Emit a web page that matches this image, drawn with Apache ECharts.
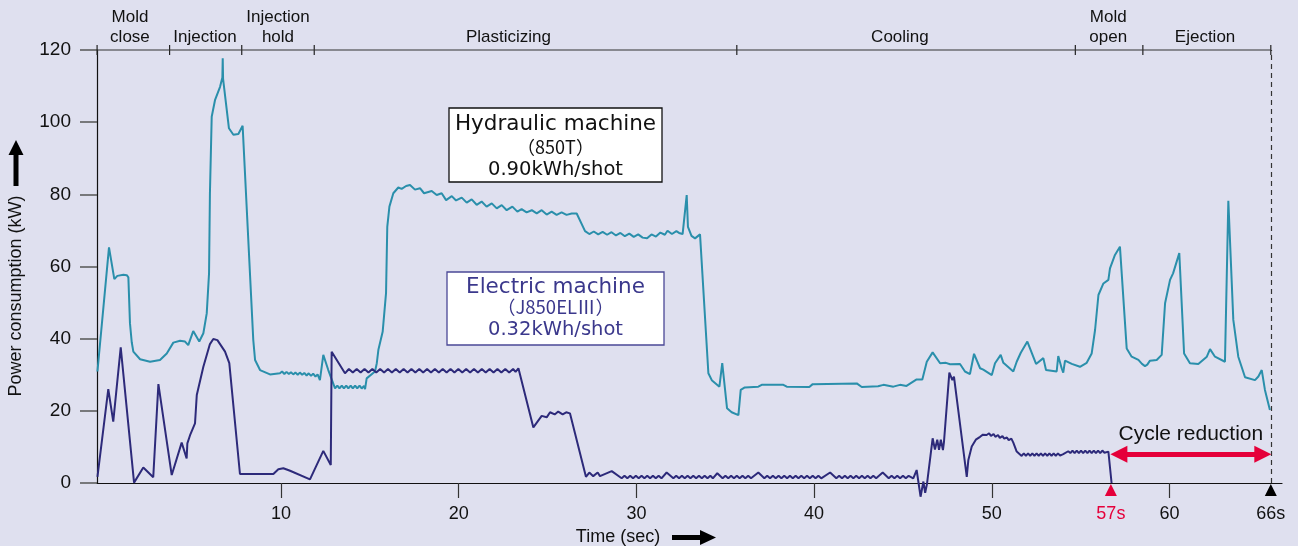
<!DOCTYPE html>
<html><head><meta charset="utf-8">
<script src="https://cdn.jsdelivr.net/npm/echarts@6/dist/echarts.min.js"></script>
<style>html,body{margin:0;padding:0;background:#dfe0ef}#c{width:1298px;height:546px}</style>
</head><body><div id="c"></div><script>
// ---------- data ----------
const timeTicks = [10, 20, 30, 40, 50, 60];
const markerTimes = [56.7, 65.7];
const markerLabels = ['57s', '66s'];
const phaseBounds = [-0.35, 3.73, 7.79, 11.87, 35.65, 54.7, 58.5, 65.7];
const phaseNames = ['Mold\nclose', 'Injection', 'Injection\nhold', 'Plasticizing', 'Cooling', 'Mold\nopen', 'Ejection'];
const phaseLabelAt = [1.5, 5.72, 9.83, 22.8, 44.83, 56.55, 62.0];
const phaseLevel = 120;
const cycleArrow = [[57.15, 8], [65.25, 8]];

const hydraulic = [
[-0.33,30.9],[0.32,65.3],[0.62,56.5],[0.79,57.4],[1.13,57.7],[1.32,57.6],[1.41,57.0],[1.5,44.3],[1.6,39.0],[1.69,36.4],
[2.07,34.3],[2.63,33.6],[3.19,34.1],[3.57,35.9],[3.94,38.9],[4.32,39.4],[4.6,39.2],[4.78,38.2],[5.06,42.1],[5.4,39.2],
[5.63,41.5],[5.82,47.0],[5.95,58.1],[6.0,80.3],[6.1,101.5],[6.29,106.2],[6.57,109.8],[6.70,112.4],[6.72,117.7],[6.74,112.0],
[7.07,98.3],[7.32,96.5],[7.6,96.7],[7.84,99.0],[8.44,39.6],[8.54,34.1],[8.82,31.3],[9.38,30.1],[9.94,30.4],
[10.06,30.9],[10.19,30.2],[10.31,30.8],[10.44,30.2],[10.56,30.7],[10.69,30.1],[10.81,30.6],[10.94,30.0],[11.06,30.6],[11.19,30.0],
[11.31,30.5],[11.44,29.8],[11.56,30.4],[11.69,29.7],[11.81,30.3],[11.94,29.5],[12.06,30.1],[12.19,28.5],[12.38,35.5],[12.66,31.3],
[13.04,26.2],[13.17,27.0],[13.29,26.2],[13.42,27.0],[13.54,26.2],[13.67,27.0],[13.79,26.2],[13.92,27.0],[14.04,26.2],[14.17,27.0],
[14.29,26.2],[14.42,27.0],[14.54,26.2],[14.67,26.9],[14.73,26.0],[14.82,29.0],[15.29,30.9],[15.39,33.2],[15.48,36.9],[15.72,41.9],
[15.91,52.6],[15.98,71.0],[16.1,76.6],[16.32,80.3],[16.6,81.9],[16.79,81.5],[17.04,82.3],[17.26,82.6],[17.54,81.3],[17.82,81.7],
[18.05,80.3],[18.48,80.9],[18.76,79.8],[19.04,80.3],[19.29,78.4],[19.61,79.5],[19.85,78.3],[20.17,79.1],[20.45,77.7],[20.73,78.6],
[21.01,77.1],[21.29,78.0],[21.57,76.6],[21.86,77.5],[22.14,76.1],[22.42,77.0],[22.70,75.6],[23.02,76.6],[23.3,75.2],[23.54,75.9],
[23.82,75.0],[24.11,75.6],[24.39,74.7],[24.67,75.6],[24.95,74.4],[25.23,75.2],[25.51,74.3],[25.79,75.0],[26.07,74.3],[26.36,74.7],
[26.64,74.7],[27.11,69.8],[27.35,69.0],[27.6,69.7],[27.85,68.9],[28.1,69.6],[28.35,68.8],[28.6,69.5],[28.85,68.6],[29.1,69.3],
[29.35,68.4],[29.6,69.1],[29.85,68.2],[30.1,68.9],[30.35,68.0],[30.6,67.8],[30.85,68.9],[31.1,68.3],[31.35,69.4],[31.6,68.8],
[31.75,69.9],[32.0,69.0],[32.25,69.8],[32.4,69.3],[32.6,69.0],[32.83,79.8],[32.9,71.0],[33.1,68.5],[33.3,67.8],[33.58,68.9],
[34.05,30.4],[34.24,28.5],[34.67,26.7],[34.83,33.2],[35.1,20.7],[35.36,19.6],[35.74,18.8],[35.87,25.8],[36.1,26.5],[36.86,26.7],
[37.05,27.2],[38.27,27.2],[38.46,26.7],[39.73,26.6],[39.92,27.4],[42.4,27.6],[42.68,26.6],[43.6,26.8],[43.9,27.2],[44.46,26.7],
[44.83,27.2],[45.2,26.9],[45.77,28.7],[46.09,28.7],[46.34,33.6],[46.67,36.2],[47.09,33.2],[47.42,33.3],[47.65,32.9],[48.21,33.0],
[48.49,30.9],[48.77,30.2],[49.0,35.8],[49.34,31.8],[49.52,31.4],[50.0,29.9],[50.18,33.2],[50.5,35.5],[50.65,33.3],[51.21,30.9],
[51.4,33.6],[51.5,33.2],[51.63,36.1],[52.0,39.2],[52.49,33.0],[52.9,34.6],[53.05,31.3],[53.65,30.9],[53.74,35.2],[53.93,31.8],
[54.02,30.6],[54.12,33.9],[54.5,33.0],[54.96,32.2],[55.34,33.3],[55.62,35.9],[55.81,42.4],[56.0,52.1],[56.28,55.3],[56.56,56.3],
[56.65,59.5],[56.93,63.2],[57.21,65.5],[57.59,37.3],[57.87,35.0],[58.25,34.1],[58.45,33.0],[58.62,32.4],[58.75,32.8],[58.9,33.9],
[59.28,34.1],[59.56,35.5],[59.75,49.8],[60.03,56.3],[60.2,58.1],[60.55,63.7],[60.82,35.9],[61.15,33.2],[61.62,33.0],[62.1,35.0],
[62.28,37.1],[62.56,35.0],[63.12,33.6],[63.31,78.2],[63.59,45.2],[63.87,35.0],[64.25,29.3],[64.81,28.5],[65.0,29.5],[65.19,31.3],
[65.37,25.8],[65.65,20.2]
];

const electric = [
[-0.33,1.7],[0.28,26.0],[0.56,17.0],[0.98,37.6],[1.73,0.1],[2.25,4.3],[2.81,1.6],[3.1,27.4],[3.85,2.2],[4.41,11.2],
[4.69,6.8],[4.73,11.0],[4.9,13.5],[5.16,16.5],[5.26,24.4],[5.63,32.2],[6.0,38.5],[6.19,39.9],[6.42,39.6],[6.85,36.4],
[7.09,33.2],[7.69,2.5],[9.57,2.5],[9.85,3.8],[10.13,4.1],[10.51,3.4],[11.63,1.0],[12.38,8.9],[12.8,5.0],[12.85,36.4],
[13.6,30.4],[13.82,31.6],[14.04,30.6],[14.26,31.6],[14.48,30.6],[14.7,31.6],[14.92,30.6],[15.14,31.6],[15.36,30.6],[15.58,31.6],
[15.8,30.6],[16.02,31.6],[16.24,30.6],[16.46,31.6],[16.68,30.6],[16.9,31.6],[17.12,30.6],[17.34,31.6],[17.56,30.6],[17.78,31.6],
[18.0,30.6],[18.22,31.6],[18.44,30.6],[18.66,31.6],[18.88,30.6],[19.1,31.6],[19.32,30.6],[19.54,31.6],[19.76,30.6],[19.98,31.6],
[20.2,30.6],[20.42,31.6],[20.64,30.6],[20.86,31.6],[21.08,30.6],[21.3,31.6],[21.52,30.6],[21.74,31.6],[21.96,30.6],[22.18,31.6],
[22.4,30.6],[22.62,31.6],[22.84,30.6],[23.06,31.6],[23.2,30.8],[23.36,31.8],[24.2,15.4],[24.67,18.6],[24.95,18.2],[25.14,19.6],
[25.4,19.0],[25.6,19.8],[25.85,19.0],[26.05,19.6],[26.26,19.3],[27.16,1.7],[27.35,2.9],[27.57,1.9],[27.82,2.9],[27.95,1.9],
[28.61,3.3],[29.17,1.3],[29.33,2.0],[29.49,1.3],[29.65,2.0],[29.81,1.3],[29.97,2.0],[30.13,1.3],[30.29,2.0],[30.45,1.3],
[30.61,2.0],[30.77,1.3],[30.93,2.0],[31.09,1.3],[31.25,2.0],[31.41,1.3],[31.7,2.9],[32.08,1.3],[32.24,2.0],[32.4,1.3],
[32.56,2.0],[32.72,1.3],[32.88,2.0],[33.04,1.3],[33.2,2.0],[33.36,1.3],[33.52,2.0],[33.68,1.3],[33.84,2.0],[34.0,1.3],
[34.16,2.0],[34.3,1.3],[34.55,2.7],[34.85,1.3],[35.01,2.0],[35.17,1.3],[35.33,2.0],[35.49,1.3],[35.65,2.0],[35.81,1.3],
[35.97,2.0],[36.13,1.3],[36.29,2.0],[36.45,1.3],[36.86,2.9],[37.2,1.3],[37.36,2.0],[37.52,1.3],[37.68,2.0],[37.84,1.3],
[38.0,2.0],[38.16,1.3],[38.32,2.0],[38.48,1.3],[38.64,2.0],[38.8,1.3],[38.96,2.0],[39.12,1.3],[39.28,2.0],[39.44,1.3],
[39.6,2.0],[39.76,1.3],[39.92,2.0],[40.08,1.3],[40.24,2.0],[40.4,1.3],[40.9,2.9],[41.25,1.3],[41.41,2.0],[41.57,1.3],
[41.73,2.0],[41.89,1.3],[42.05,2.0],[42.21,1.3],[42.37,2.0],[42.53,1.3],[42.69,2.0],[42.85,1.3],[43.01,2.0],[43.17,1.3],
[43.33,2.0],[43.49,1.3],[43.86,2.9],[44.2,1.3],[44.36,2.0],[44.52,1.3],[44.68,2.0],[44.84,1.3],[45.0,2.0],[45.16,1.3],
[45.32,2.0],[45.58,1.3],[45.77,3.6],[45.99,-3.8],[46.15,0.4],[46.25,-2.7],[46.35,-0.3],[46.67,12.4],[46.8,9.3],[46.93,12.0],
[47.03,9.2],[47.13,12.0],[47.25,9.1],[47.31,11.5],[47.61,30.6],[47.78,28.5],[47.87,29.5],[48.59,1.7],[48.68,6.4],[48.87,10.1],
[49.1,12.0],[49.34,12.8],[49.5,13.4],[49.71,13.3],[49.85,13.8],[49.95,13.0],[50.1,13.6],[50.2,12.8],[50.35,13.3],[50.45,12.5],
[50.6,13.0],[50.7,12.3],[50.85,12.6],[50.95,11.9],[51.1,12.3],[51.21,11.2],[51.4,8.7],[51.68,7.5],[51.8,8.2],[51.92,7.5],
[52.04,8.2],[52.16,7.5],[52.28,8.2],[52.4,7.5],[52.52,8.2],[52.64,7.5],[52.76,8.2],[52.88,7.5],[53.0,8.2],[53.12,7.5],
[53.24,8.2],[53.36,7.5],[53.48,8.2],[53.6,7.5],[53.72,8.2],[53.84,7.6],[54.02,8.0],[54.3,8.8],[54.42,8.3],[54.54,9.0],
[54.66,8.3],[54.78,9.0],[54.9,8.3],[55.02,9.0],[55.14,8.3],[55.26,9.0],[55.38,8.3],[55.5,9.0],[55.62,8.3],[55.74,9.0],
[55.86,8.3],[55.98,9.0],[56.1,8.3],[56.22,9.0],[56.34,8.4],[56.56,8.7],[56.74,0]
];

// ---------- chart ----------
const FONT = "'Liberation Sans', Arial, sans-serif";
const chart = echarts.init(document.getElementById('c'), null, {renderer: 'canvas'});
const HYD = '#2a8fab', ELE = '#2d2a7a', RED = '#e5003a';

chart.setOption({
  backgroundColor: '#dfe0ef',
  animation: false,
  textStyle: {fontFamily: FONT},
  grid: {left: 97, right: 16, top: 50, bottom: 63},
  xAxis: {
    type: 'value', min: -0.355, max: 66.33,
    axisLine: {show: true, onZero: false, lineStyle: {color: '#111', width: 1.2}},
    axisTick: {show: true, customValues: timeTicks, length: 15, lineStyle: {color: '#333', width: 1.2}},
    axisLabel: {
      customValues: timeTicks.concat(markerTimes), margin: 22, fontSize: 18, color: '#111', fontFamily: FONT,
      formatter: function (v) {
        for (let i = 0; i < markerTimes.length; i++) {
          if (Math.abs(v - markerTimes[i]) < 1e-6) return i === 0 ? '{r|' + markerLabels[i] + '}' : markerLabels[i];
        }
        return String(v);
      },
      rich: {r: {color: RED, fontSize: 18, fontFamily: FONT}}
    },
    splitLine: {show: false}
  },
  yAxis: {
    type: 'value', min: 0, max: 120, interval: 20,
    axisLine: {show: true, onZero: false, lineStyle: {color: '#111', width: 1.2}},
    axisTick: {show: true, length: 17, lineStyle: {color: '#555', width: 1.5}},
    axisLabel: {fontSize: 19, margin: 26, color: '#111', fontFamily: FONT},
    splitLine: {show: false}
  },
  graphic: [
    {type: 'text', x: 16, y: 296, rotation: Math.PI / 2,
     style: {text: 'Power consumption (kW)', fontSize: 18, fontFamily: FONT, fill: '#111', align: 'center', verticalAlign: 'middle'}},
    {type: 'polygon', shape: {points: [[13.5,186],[18.5,186],[18.5,155],[23.5,155],[16,140],[8.5,155],[13.5,155]]}, style: {fill: '#000'}},
    {type: 'text', x: 618, y: 537,
     style: {text: 'Time (sec)', fontSize: 18, fontFamily: FONT, fill: '#111', align: 'center', verticalAlign: 'middle'}},
    {type: 'polygon', shape: {points: [[672,535],[700,535],[700,530],[716,537.5],[700,545],[700,540],[672,540]]}, style: {fill: '#000'}},
    {type: 'rect', shape: {x: 449, y: 108, width: 213, height: 74}, style: {fill: '#fff', stroke: '#111', lineWidth: 1.3}},
    {type: 'text', x: 555.5, y: 124, style: {text: 'Hydraulic machine', fontSize: 21.5, fontFamily: 'DejaVu Sans', fill: '#111', align: 'center', verticalAlign: 'middle'}},
    {type: 'text', x: 555.5, y: 147, style: {text: '（850T）', fontSize: 18, fontFamily: "'Noto Sans CJK JP'", fill: '#111', align: 'center', verticalAlign: 'middle'}},
    {type: 'text', x: 555.5, y: 170, style: {text: '0.90kWh/shot', fontSize: 19.5, fontFamily: 'DejaVu Sans', fill: '#111', align: 'center', verticalAlign: 'middle'}},
    {type: 'rect', shape: {x: 447, y: 272, width: 217, height: 73}, style: {fill: '#fff', stroke: '#4b4896', lineWidth: 1.3}},
    {type: 'text', x: 555.5, y: 287, style: {text: 'Electric machine', fontSize: 21.5, fontFamily: 'DejaVu Sans', fill: '#3b388c', align: 'center', verticalAlign: 'middle'}},
    {type: 'text', x: 555.5, y: 307, style: {text: '（J850ELⅢ）', fontSize: 18.5, fontFamily: "'Noto Sans CJK JP'", fill: '#3b388c', align: 'center', verticalAlign: 'middle'}},
    {type: 'text', x: 555.5, y: 330, style: {text: '0.32kWh/shot', fontSize: 19.5, fontFamily: 'DejaVu Sans', fill: '#3b388c', align: 'center', verticalAlign: 'middle'}}
  ],
  series: [
    {
      name: 'Hydraulic machine', type: 'line', data: hydraulic, showSymbol: false, symbol: 'none', clip: false,
      lineStyle: {color: HYD, width: 2}, silent: true, z: 3,
      markLine: {
        silent: true, symbol: ['none', 'none'], label: {show: false},
        lineStyle: {color: '#333', type: [5, 4], width: 1.2},
        data: [[{coord: [markerTimes[1], 0]}, {coord: [markerTimes[1], phaseLevel]}]]
      }
    },
    {
      name: 'Electric machine', type: 'line', data: electric, showSymbol: false, symbol: 'none', clip: false,
      lineStyle: {color: ELE, width: 2}, silent: true, z: 4,
      markLine: {
        silent: true, symbol: ['triangle', 'triangle'], symbolSize: 17,
        lineStyle: {color: RED, type: 'solid', width: 5},
        itemStyle: {color: RED},
        label: {show: true, position: 'middle', formatter: 'Cycle reduction', color: '#111', fontSize: 21, fontFamily: FONT, distance: 9},
        data: [[{coord: cycleArrow[0]}, {coord: cycleArrow[1]}]]
      },
      markPoint: {
        silent: true, symbol: 'triangle', symbolSize: 12, symbolOffset: [0, 7], label: {show: false},
        data: [
          {coord: [markerTimes[0], 0], itemStyle: {color: RED}},
          {coord: [markerTimes[1], 0], itemStyle: {color: '#000'}}
        ]
      }
    },
    {
      type: 'line', data: [[phaseBounds[0], phaseLevel], [phaseBounds[phaseBounds.length - 1], phaseLevel]],
      symbol: 'none', clip: false, silent: true, lineStyle: {color: '#333', width: 1.2}
    },
    {
      type: 'custom', clip: false, silent: true,
      data: phaseBounds.map(function (t) { return [t, phaseLevel]; }),
      renderItem: function (params, api) {
        const p = api.coord([api.value(0), api.value(1)]);
        return {type: 'line', shape: {x1: p[0], y1: p[1] - 5, x2: p[0], y2: p[1] + 5}, style: {stroke: '#222', lineWidth: 1.2}};
      }
    },
    {
      type: 'custom', clip: false, silent: true,
      data: phaseLabelAt.map(function (t, i) { return [t, phaseLevel, i]; }),
      renderItem: function (params, api) {
        const p = api.coord([api.value(0), api.value(1)]);
        return {type: 'text', x: p[0], y: p[1] - 3,
          style: {text: phaseNames[api.value(2)], fill: '#111', fontSize: 17, fontFamily: FONT, lineHeight: 20, align: 'center', verticalAlign: 'bottom'}};
      }
    }
  ]
});
</script></body></html>
